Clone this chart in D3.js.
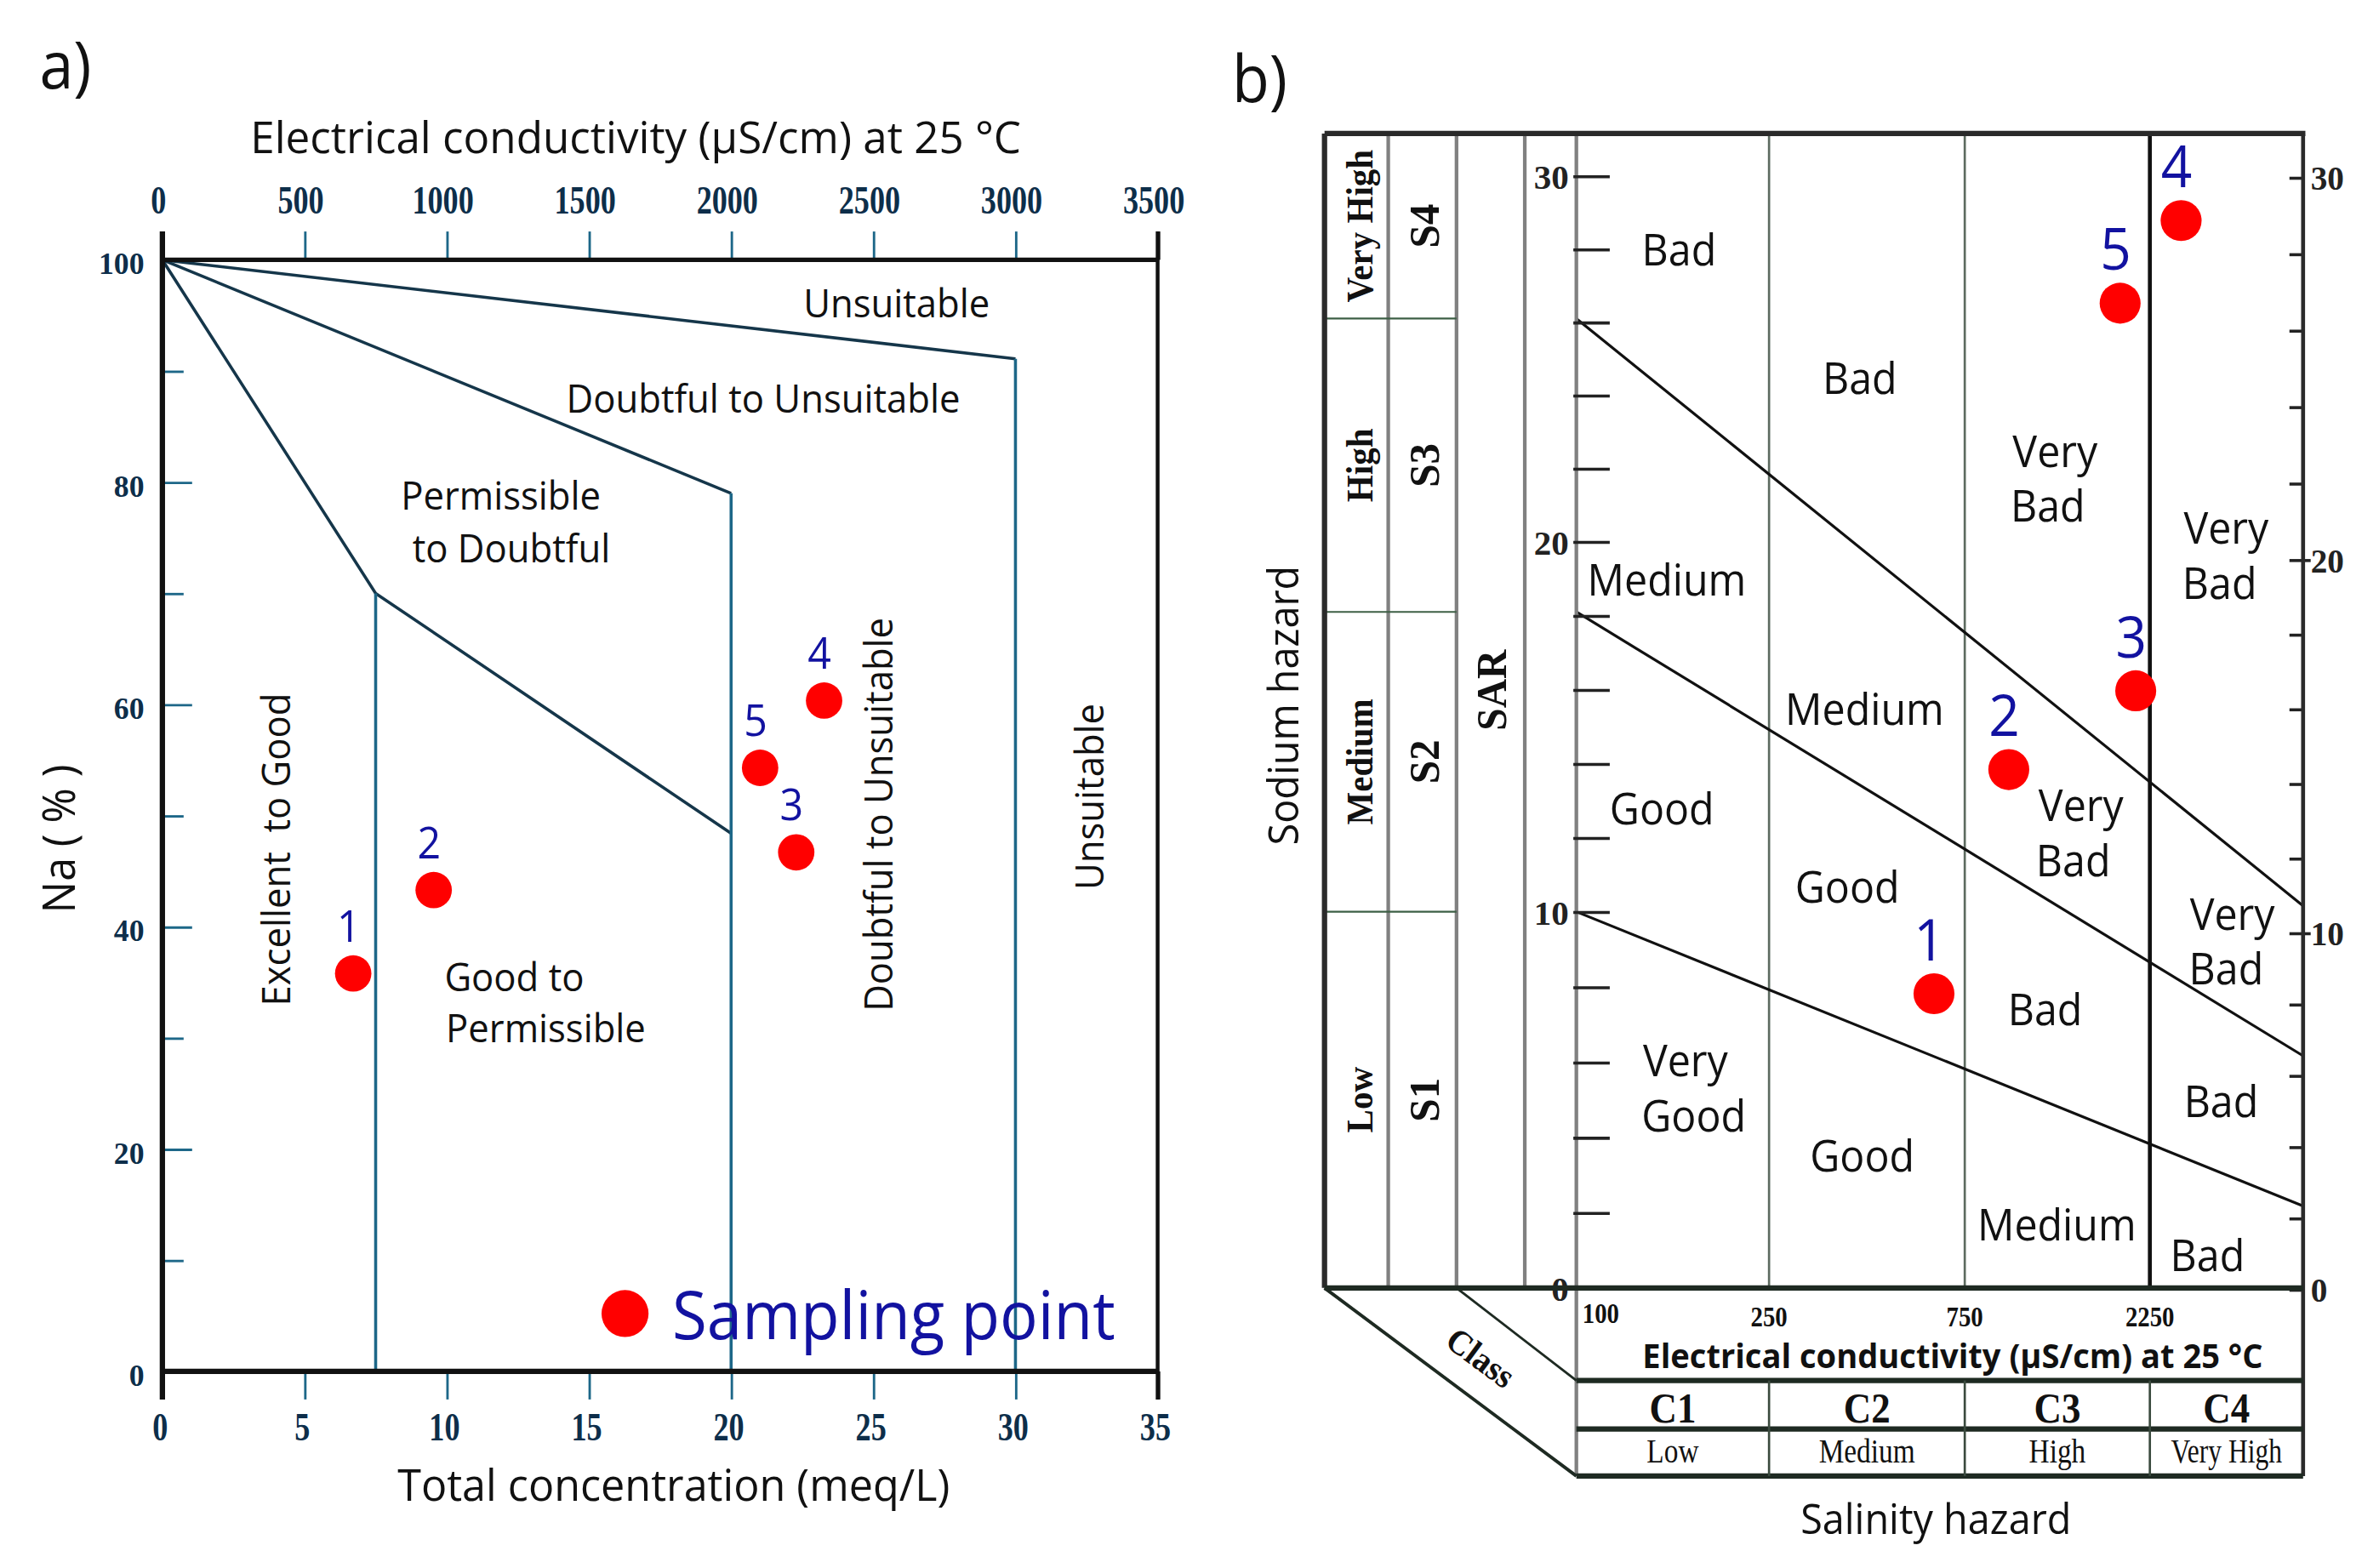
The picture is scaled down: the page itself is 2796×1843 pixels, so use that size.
<!DOCTYPE html>
<html><head><meta charset="utf-8">
<script src="https://cdn.jsdelivr.net/npm/d3@7"></script>
<style>html,body{margin:0;padding:0;background:#fff;} svg{display:block;background:#fff;}</style>
</head><body><svg id="chart"></svg>
<script>
// ================= DATA =================
const sampleIds   = ["1","2","3","4","5"];
// panel a (Wilcox)
const totalConc   = [6.71, 9.54, 22.29, 23.27, 21.02];   // meq/L
const sodiumPct   = [35.8, 43.3, 46.7, 60.35, 54.3];     // Na %
// panel b (USSL / Richards)
const ecSalinity  = [631, 974, 2069, 2648, 1886];        // µS/cm
const sarValues   = [7.82, 13.84, 15.97, 28.78, 26.52];  // SAR

const concTicks   = [0,5,10,15,20,25,30,35];
const ecTicksTop  = [0,500,1000,1500,2000,2500,3000,3500];
const naTicks     = [0,20,40,60,80,100];
const naMinorTicks= [10,30,50,70,90];
const wilcoxLines = [
  [[0,100],[7.5,70],[20,48.4]],
  [[0,100],[20,79]],
  [[0,100],[30,91.1]]
];
const wilcoxVerticals = [[7.5,70],[20,79],[30,91.1]];
const wilcoxZones = [
  ["Unsuitable",25.82,96.2,0,"middle"],
  ["Doubtful to Unsuitable",21.13,87.6,0,"middle"],
  ["Permissible",11.9,78.9,0,"middle"],
  ["to Doubtful",12.27,74.2,0,"middle"],
  ["Good to",9.92,35.6,0,"start"],
  ["Permissible",9.97,31.0,0,"start"],
  ["Excellent  to Good",3.95,46.95,-90,"middle"],
  ["Doubtful to Unsuitable",25.13,50.1,-90,"middle"],
  ["Unsuitable",32.55,51.7,-90,"middle"]
];

const ecClassBreaks = [100,250,750,2250,5000];
const ecClassLabels = ["100","250","750","2250"];
const salinityClasses = ["C1","C2","C3","C4"];
const salinityLevels  = ["Low","Medium","High","Very High"];
const sodiumClasses   = ["S1","S2","S3","S4"];
const sodiumLevels    = ["Low","Medium","High","Very High"];
const sodiumBreaks    = [0,10,18.1,26.1];
const sarLabelTicks   = [0,10,20,30];
const sarMinorTicks   = [0,2,4,6,8,10,12,14,16,18,20,22,24,26,28,30];
// SAR of each boundary at the left (100 µS/cm) and right (5000 µS/cm) edge
const richardsLines = [[10.0,2.18],[18.1,6.17],[26.1,10.16]];
// zone labels: text, class-column position, SAR
const richardsZones = [
  ["Bad",0.533,28.0],["Bad",1.464,24.5],["Very",2.488,22.5],["Bad",2.449,21.0],
  ["Very",3.498,20.4],["Bad",3.455,18.9],["Medium",0.469,19.0],["Medium",1.488,15.5],
  ["Good",0.444,12.8],["Very",2.628,12.9],["Bad",2.586,11.4],["Good",1.40,10.7],
  ["Very",3.538,9.97],["Bad",3.498,8.51],["Bad",2.434,7.42],["Very",0.566,6.07],
  ["Good",0.609,4.6],["Bad",3.465,4.98],["Good",1.476,3.53],["Medium",2.497,1.71],
  ["Bad",3.376,0.9]
];

// ================= SETUP =================
const svg = d3.select("#chart").attr("width",2796).attr("height",1843)
  .attr("viewBox","0 0 1568 1033.6");
const SANS = "'Open Sans', 'Noto Sans', sans-serif";
const SERIF = "'Liberation Serif', 'DejaVu Serif', serif";
const BLUE = "#1212a0", RED = "#ff0000", TEAL = "#1d6788", NAVY = "#15364a", TICKTXT = "#0d2e4a";

function txt(g, s, x, y, o = {}) {
  const size = o.size || 28, sx = o.sx == null ? 1 : o.sx;
  const t = g.append("g")
    .attr("transform", `translate(${x},${y}) rotate(${o.rot || 0}) scale(${sx},1)`)
    .append("text")
    .attr("text-anchor", o.anchor || "middle")
    .attr("dominant-baseline", "central")
    .style("font-family", o.font || SANS)
    .style("font-size", size + "px")
    .style("font-weight", o.weight || 400)
    .style("white-space", "pre")
    .attr("fill", o.fill || "#111")
    .text(s);
  if (o.len) t.attr("textLength", o.len).attr("lengthAdjust", "spacingAndGlyphs");
  return t;
}
// Calibri-like text from Open Sans
function cal(g, s, x, y, size, o = {}) {
  return txt(g, s, x, y, Object.assign({size: size * 0.93, sx: 0.94}, o));
}
function line(g, x1, y1, x2, y2, stroke, w) {
  return g.append("line").attr("x1",x1).attr("y1",y1).attr("x2",x2).attr("y2",y2)
    .attr("stroke",stroke).attr("stroke-width",w).attr("stroke-linecap","butt");
}

// ================= PANEL A =================
const A = svg.append("g");
const xA  = d3.scaleLinear().domain([0,35]).range([107,763]);
const ecA = d3.scaleLinear().domain([0,3500]).range([107,763]);
const yA  = d3.scaleLinear().domain([0,100]).range([904,171.3]);

cal(A, "a)", 26, 42, 46, {anchor:"start"});
cal(A, "Electrical conductivity (µS/cm) at 25 °C", 419, 90, 31, {sx:1, len:508});
cal(A, "Total concentration (meq/L)", 444, 978, 31, {sx:1, len:364});
cal(A, "Na ( % )", 38, 553, 32, {rot:-90});

// top axis (EC)
const topAx = A.append("g").attr("transform",`translate(0,${yA(100)})`)
  .call(d3.axisTop(ecA).tickValues(ecTicksTop).tickSizeInner(18.7).tickSizeOuter(0).tickFormat(""));
topAx.select(".domain").remove();
topAx.selectAll(".tick line").attr("stroke", d => (d===0||d===3500) ? "#111" : TEAL)
  .attr("stroke-width", d => (d===0||d===3500) ? 2.5 : 1.6);
topAx.selectAll(".tick").each(function(d){
  txt(d3.select(this), String(d), -3, 132 - yA(100), {font:SERIF, weight:700, size:26, sx:0.78, fill:TICKTXT});
});

// bottom axis (concentration)
const botAx = A.append("g").attr("transform",`translate(0,${yA(0)})`)
  .call(d3.axisBottom(xA).tickValues(concTicks).tickSizeInner(18.5).tickSizeOuter(0).tickFormat(""));
botAx.select(".domain").remove();
botAx.selectAll(".tick line").attr("stroke", d => (d===0||d===35) ? "#111" : TEAL)
  .attr("stroke-width", d => (d===0||d===35) ? 2.5 : 1.6);
botAx.selectAll(".tick").each(function(d){
  txt(d3.select(this), String(d), -2, 941 - yA(0), {font:SERIF, weight:700, size:26, sx:0.78, fill:TICKTXT});
});

// left axis (Na %)
const leftAx = A.append("g").attr("transform",`translate(${xA(0)},0)`)
  .call(d3.axisLeft(yA).tickValues(naTicks).tickSizeInner(-19.6).tickSizeOuter(0).tickPadding(12).tickFormat(d3.format("d")));
leftAx.select(".domain").remove();
leftAx.selectAll(".tick line").attr("stroke", TEAL).attr("stroke-width", 1.6);
leftAx.selectAll(".tick text").attr("fill", TICKTXT).attr("dy", "0.45em")
  .style("font-family", SERIF).style("font-weight", 700).style("font-size", "20px");
const leftMinor = A.append("g").attr("transform",`translate(${xA(0)},0)`)
  .call(d3.axisLeft(yA).tickValues(naMinorTicks).tickSizeInner(-14).tickSizeOuter(0).tickFormat(""));
leftMinor.select(".domain").remove();
leftMinor.selectAll(".tick line").attr("stroke", TEAL).attr("stroke-width", 1.6);

// Wilcox boundaries
const lineA = d3.line().x(d => xA(d[0])).y(d => yA(d[1]));
A.selectAll("path.wl").data(wilcoxLines).join("path").attr("class","wl")
  .attr("d", lineA).attr("fill","none").attr("stroke",NAVY).attr("stroke-width",2);
A.selectAll("line.wv").data(wilcoxVerticals).join("line").attr("class","wv")
  .attr("x1", d => xA(d[0])).attr("x2", d => xA(d[0]))
  .attr("y1", d => yA(d[1])).attr("y2", yA(0))
  .attr("stroke", TEAL).attr("stroke-width", 2);

// frame
line(A, xA(0), yA(100), xA(35), yA(100), "#111", 3);
line(A, xA(0), yA(0), xA(35), yA(0), "#111", 3.5);
line(A, xA(0), yA(100)-18.7, xA(0), yA(0)+18.5, "#111", 3.5);
line(A, xA(35), yA(100)-18.7, xA(35), yA(0)+18.5, "#111", 2.5);

// zone labels
wilcoxZones.forEach(z => cal(A, z[0], xA(z[1]), yA(z[2]), 28, {rot:z[3], anchor:z[4]}));

// sampling points
const ptsA = sampleIds.map((id,i) => ({id, x: totalConc[i], y: sodiumPct[i]}));
A.selectAll("circle.pa").data(ptsA).join("circle").attr("class","pa")
  .attr("cx", d => xA(d.x)).attr("cy", d => yA(d.y)).attr("r", 12).attr("fill", RED);
ptsA.forEach(d => cal(A, d.id, xA(d.x) - 3, yA(d.y) - 32, 31, {fill:BLUE}));

// legend
A.append("circle").attr("cx", xA(16.27)).attr("cy", yA(5.2)).attr("r", 15.5).attr("fill", RED);
cal(A, "Sampling point", xA(17.93), yA(5.2), 47, {anchor:"start", fill:BLUE, sx:1, len:292});

// ================= PANEL B =================
const B = svg.append("g");
const xB   = d3.scaleLog().domain(ecClassBreaks).range([1039,1166,1295,1417,1518]);
const colB = d3.scaleLinear().domain([0,1,2,3,4]).range([1039,1166,1295,1417,1518]);
const sarL = d3.scaleLinear().domain([0,10,20,30]).range([849,601,357,116]);
const sarR = d3.scaleLinear().domain([0,10,20,30]).range([850,615,369,117]);
const bTop = 88, bLeft = 873, cIdx = [915, 960, 1005];
const rowEC = 910, rowC = 942, rowBot = 973;

cal(B, "b)", 812, 51, 46, {anchor:"start"});
cal(B, "Sodium hazard", 845, 465, 30, {rot:-90});
cal(B, "Salinity hazard", 1276, 1000, 30);

// plot dividers
[250, 750].forEach(v => line(B, xB(v), bTop, xB(v), sarL(0), "#5d6b60", 1.5));
line(B, xB(2250), bTop, xB(2250), sarL(0), "#111", 2.6);

// Richards lines
B.selectAll("line.rl").data(richardsLines).join("line").attr("class","rl")
  .attr("x1", xB(100)).attr("y1", d => sarL(d[0]))
  .attr("x2", xB(5000)).attr("y2", d => sarL(d[1]))
  .attr("stroke", "#111").attr("stroke-width", 1.8);

// left column structure
cIdx.forEach(x => line(B, x, bTop, x, sarL(0), "#808080", 2.4));
line(B, xB(100), bTop, xB(100), rowBot, "#808080", 2.4);
sodiumBreaks.slice(1).forEach(s => line(B, bLeft, sarL(s), cIdx[1], sarL(s), "#3d5f45", 1.2));
const rowEdges = sodiumBreaks.map(s => sarL(s)).concat([bTop]);
sodiumClasses.forEach((c, i) => {
  const yc = (rowEdges[i] + rowEdges[i+1]) / 2;
  txt(B, sodiumLevels[i], (bLeft + cIdx[0]) / 2 + 2, yc, {font:SERIF, weight:700, size:25, rot:-90, sx:0.92});
  txt(B, c, (cIdx[0] + cIdx[1]) / 2 + 1, yc, {font:SERIF, weight:700, size:29, rot:-90, sx:0.95});
});
txt(B, "SAR", (cIdx[1] + cIdx[2]) / 2 + 1, 455, {font:SERIF, weight:700, size:28, rot:-90, sx:0.95});

// left SAR axis
const sarAxL = B.append("g").attr("transform", `translate(${xB(100)},0)`)
  .call(d3.axisLeft(sarL).tickValues(sarMinorTicks).tickSizeInner(-22).tickSizeOuter(0).tickPadding(5)
    .tickFormat(d => sarLabelTicks.includes(d) ? String(d) : ""));
sarAxL.select(".domain").remove();
sarAxL.selectAll(".tick line").attr("stroke", "#222").attr("stroke-width", 2).attr("x1", -2);
sarAxL.selectAll(".tick text").attr("fill", "#222").attr("dy", "0.35em")
  .style("font-family", SERIF).style("font-weight", 700).style("font-size", "23px");

// right SAR axis
const sarAxR = B.append("g").attr("transform", `translate(${xB(5000)},0)`)
  .call(d3.axisRight(sarR).tickValues(sarMinorTicks).tickSizeInner(-9).tickSizeOuter(0).tickPadding(5)
    .tickFormat(d => sarLabelTicks.includes(d) ? String(d) : ""));
sarAxR.select(".domain").remove();
sarAxR.selectAll(".tick line").attr("stroke", "#222").attr("stroke-width", 2)
  .attr("x1", d => (d === 10 || d === 20) ? 5 : 0);
sarAxR.selectAll(".tick text").attr("fill", "#222").attr("dy", "0.35em")
  .style("font-family", SERIF).style("font-weight", 700).style("font-size", "22px");

// outer frame
line(B, bLeft, bTop, xB(5000) + 1.5, bTop, "#2a2a2a", 3.5);
line(B, bLeft, bTop, bLeft, sarL(0), "#2a2a2a", 3.5);
line(B, xB(5000), bTop, xB(5000), rowBot, "#2a2a2a", 2.6);
line(B, bLeft, sarL(0), xB(5000), sarL(0), "#1e2a22", 3.5);

// bottom perspective box
line(B, bLeft, sarL(0), xB(100), rowBot, "#1e2a22", 2.2);
line(B, cIdx[1], sarL(0), xB(100), rowEC, "#1e2a22", 1.6);
[rowEC, rowC, rowBot].forEach(y => line(B, xB(100), y, xB(5000), y, "#1e2a22", 3.5));
[250, 750, 2250].forEach(v => line(B, xB(v), rowEC, xB(v), rowBot, "#3a4a3e", 1.5));

ecClassLabels.forEach((s, i) => {
  const v = ecClassBreaks[i];
  txt(B, s, i === 0 ? xB(v) + 4 : xB(v), i === 0 ? 866 : 868,
      {font:SERIF, weight:700, size:19, sx:0.85, anchor: i === 0 ? "start" : "middle"});
});
cal(B, "Electrical conductivity (µS/cm) at 25 °C", 1287, 893, 24, {weight:700, len:435});
salinityClasses.forEach((c, i) => {
  const xc = (xB(ecClassBreaks[i]) + xB(ecClassBreaks[i+1])) / 2;
  txt(B, c, xc, 928, {font:SERIF, weight:700, size:28, sx:0.9});
  const o = {font:SERIF, size:22, sx:0.85};
  if (i === 3) o.len = 86;
  txt(B, salinityLevels[i], xc, 957, o);
});
txt(B, "Class", 976, 895, {font:SERIF, weight:700, size:23, rot:36.5, sx:0.95});

// zone labels
richardsZones.forEach(z => cal(B, z[0], colB(z[1]), sarL(z[2]), 31));

// sample points
const ptsB = sampleIds.map((id,i) => ({id, x: ecSalinity[i], y: sarValues[i]}));
B.selectAll("circle.pb").data(ptsB).join("circle").attr("class","pb")
  .attr("cx", d => xB(d.x)).attr("cy", d => sarL(d.y)).attr("r", 13.5).attr("fill", RED);
ptsB.forEach(d => cal(B, d.id, xB(d.x) - 3, sarL(d.y) - 37, 41, {fill:BLUE}));
</script></body></html>
